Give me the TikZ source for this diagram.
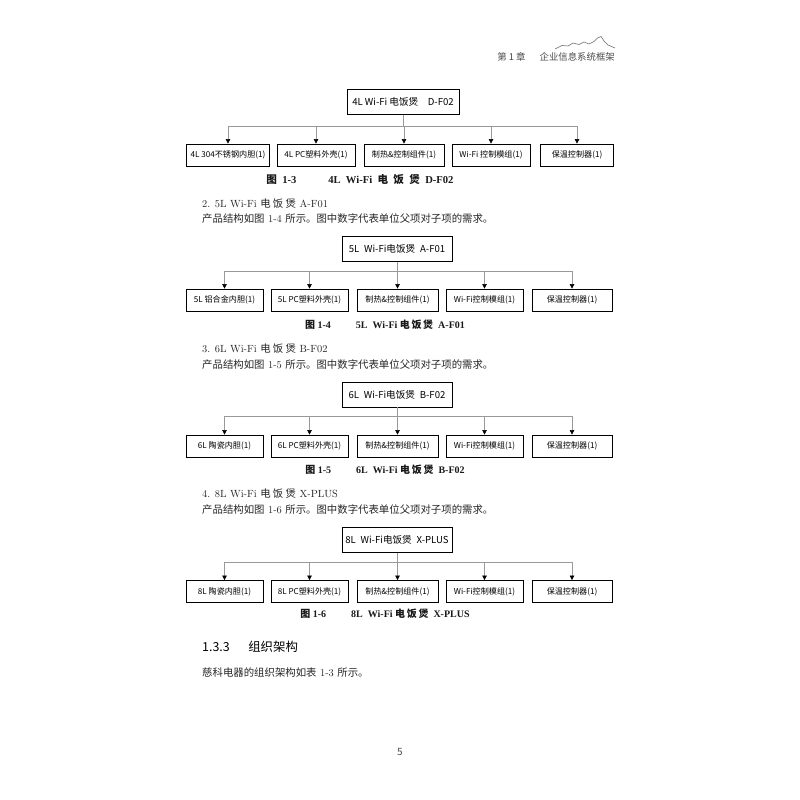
\documentclass[tikz,border=0pt]{standalone}
\usepackage{fontspec}
\usetikzlibrary{arrows.meta}
\newfontfamily\cjk{Noto Sans CJK SC}
\newfontfamily\capser{Liberation Serif}
\begin{document}
\begin{tikzpicture}[x=1pt,y=-1pt,
  topbox/.style={draw=black, line width=0.9pt, minimum height=25pt, minimum width=110pt, inner sep=0pt, font=\cjk\fontsize{9.6}{11}\selectfont},
  kidbox/.style={draw=black, line width=0.8pt, minimum height=22pt, inner sep=0pt, font=\cjk\fontsize{8.1}{9}\selectfont},
  conn/.style={draw=black!40, line width=0.6pt, -{Triangle[length=4.5pt,width=4.5pt,color=black]}},
  capt/.style={font=\capser\bfseries\fontsize{10}{11}\selectfont, text=black!90},
  body/.style={anchor=west, inner sep=0pt, font=\fontsize{10.4}{12}\selectfont, text=black!85},
  hdr/.style={inner sep=0pt, text=black!70}]
\useasboundingbox[fill=white] (0,0) rectangle (800,800);

% header
\node[hdr, anchor=east, font=\cjk\fontsize{9.4}{11}\selectfont] (hd) at (615,57) {第 1 章\quad\enspace 企业信息系统框架};
\draw[black!60, line width=0.55pt] (555,49) -- (562,45.5) -- (568,46) -- (573,43) -- (579,44.5) -- (584,42) -- (589,44) -- (594,41.5) -- (597.5,38) -- (601,36.5) -- (604,41) -- (608,45) -- (615,48);

% ---------- diagram 1
\node[topbox, minimum width=112pt] (t1) at (403,102) {4L Wi-Fi 电饭煲\quad D-F02};
\coordinate (bus1) at (0,126);
\node[kidbox, minimum width=83pt] (a1) at (228,155) {4L 304不锈钢内胆(1)};
\node[kidbox, minimum width=78pt] (a2) at (316,155) {4L PC塑料外壳(1)};
\node[kidbox, minimum width=80pt] (a3) at (404,155) {制热\&控制组件(1)};
\node[kidbox, minimum width=78pt] (a4) at (491,155) {Wi-Fi 控制模组(1)};
\node[kidbox, minimum width=73pt] (a5) at (577,155) {保温控制器(1)};
\foreach \k in {a1,a2,a3,a4,a5} \draw[conn] (t1.south) -- (t1.south |- bus1) -| (\k.north);
\node[capt, font=\capser\bfseries\fontsize{10.6}{12}\selectfont] (c1) at (360,180) {{\cjk\bfseries 图}\ \ 1-3\qquad\quad 4L\ \ Wi-Fi\ \ {\cjk\bfseries 电\,\,\,饭\,\,\,煲}\ \ D-F02};

\node[body] (p1) at (202,204) {2. 5L Wi-Fi {\cjk 电 饭 煲} A-F01};
\node[body] (q1) at (202,219) {{\cjk 产品结构如图} 1-4 {\cjk 所示。图中数字代表单位父项对子项的需求。}};

% ---------- diagram 2
\node[topbox] (t2) at (397,249) {5L\enspace Wi-Fi电饭煲\enspace A-F01};
\coordinate (bus2) at (0,271);
\node[kidbox, minimum width=77pt] (b1) at (224.5,300) {5L 铝合金内胆(1)};
\node[kidbox, minimum width=77pt] (b2) at (309.5,300) {5L PC塑料外壳(1)};
\node[kidbox, minimum width=81pt] (b3) at (397.5,300) {制热\&控制组件(1)};
\node[kidbox, minimum width=77pt] (b4) at (484.5,300) {Wi-Fi控制模组(1)};
\node[kidbox, minimum width=80pt] (b5) at (572,300) {保温控制器(1)};
\foreach \k in {b1,b2,b3,b4,b5} \draw[conn] (t2.south) -- (t2.south |- bus2) -| (\k.north);
\node[capt] (c2) at (385,325) {{\cjk\bfseries 图}\ 1-4\qquad\ \ 5L\ \ Wi-Fi\ {\cjk\bfseries 电\,饭\,煲}\ \ A-F01};

\node[body] (p2) at (202,349) {3. 6L Wi-Fi {\cjk 电 饭 煲} B-F02};
\node[body] (q2) at (202,365) {{\cjk 产品结构如图} 1-5 {\cjk 所示。图中数字代表单位父项对子项的需求。}};

% ---------- diagram 3
\node[topbox] (t3) at (397,394.5) {6L\enspace Wi-Fi电饭煲\enspace B-F02};
\coordinate (bus3) at (0,416);
\node[kidbox, minimum width=77pt] (e1) at (224.5,446) {6L 陶瓷内胆(1)};
\node[kidbox, minimum width=77pt] (e2) at (309.5,446) {6L PC塑料外壳(1)};
\node[kidbox, minimum width=81pt] (e3) at (397.5,446) {制热\&控制组件(1)};
\node[kidbox, minimum width=77pt] (e4) at (484.5,446) {Wi-Fi控制模组(1)};
\node[kidbox, minimum width=80pt] (e5) at (572,446) {保温控制器(1)};
\foreach \k in {e1,e2,e3,e4,e5} \draw[conn] (t3.south) -- (t3.south |- bus3) -| (\k.north);
\node[capt] (c3) at (385,470) {{\cjk\bfseries 图}\ 1-5\qquad\ \ 6L\ \ Wi-Fi\ {\cjk\bfseries 电\,饭\,煲}\ \ B-F02};

\node[body] (p3) at (202,494) {4. 8L Wi-Fi {\cjk 电 饭 煲} X-PLUS};
\node[body] (q3) at (202,510) {{\cjk 产品结构如图} 1-6 {\cjk 所示。图中数字代表单位父项对子项的需求。}};

% ---------- diagram 4
\node[topbox] (t4) at (397,540) {8L\enspace Wi-Fi电饭煲\enspace X-PLUS};
\coordinate (bus4) at (0,562);
\node[kidbox, minimum width=77pt] (f1) at (224.5,591.5) {8L 陶瓷内胆(1)};
\node[kidbox, minimum width=77pt] (f2) at (309.5,591.5) {8L PC塑料外壳(1)};
\node[kidbox, minimum width=81pt] (f3) at (397.5,591.5) {制热\&控制组件(1)};
\node[kidbox, minimum width=77pt] (f4) at (484.5,591.5) {Wi-Fi控制模组(1)};
\node[kidbox, minimum width=80pt] (f5) at (572,591.5) {保温控制器(1)};
\foreach \k in {f1,f2,f3,f4,f5} \draw[conn] (t4.south) -- (t4.south |- bus4) -| (\k.north);
\node[capt] (c4) at (385,614) {{\cjk\bfseries 图}\ 1-6\qquad\ \ 8L\ \ Wi-Fi\ {\cjk\bfseries 电\,饭\,煲}\ \ X-PLUS};

% ---------- section
\node[body, font=\cjk\fontsize{12.4}{14}\selectfont, text=black] (s1) at (202,647) {1.3.3\quad\enspace 组织架构};
\node[body] (s2) at (202,673) {{\cjk 慈科电器的组织架构如表} 1-3 {\cjk 所示。}};

\node[hdr, font=\cjk\fontsize{10}{12}\selectfont] (pg) at (400,752) {5};
\end{tikzpicture}
\end{document}
